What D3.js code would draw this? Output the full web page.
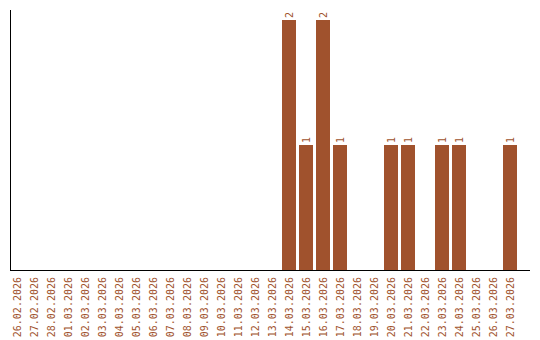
<!DOCTYPE html>
<html><head><meta charset="utf-8">
<script src="https://cdn.jsdelivr.net/npm/d3@7"></script>
<style>body{margin:0;background:#fff}svg{display:block}</style>
</head><body>
<svg id="c" width="540" height="340"></svg>
<script>
const dates = ["26.02.2026","27.02.2026","28.02.2026","01.03.2026","02.03.2026","03.03.2026","04.03.2026","05.03.2026","06.03.2026","07.03.2026","08.03.2026","09.03.2026","10.03.2026","11.03.2026","12.03.2026","13.03.2026","14.03.2026","15.03.2026","16.03.2026","17.03.2026","18.03.2026","19.03.2026","20.03.2026","21.03.2026","22.03.2026","23.03.2026","24.03.2026","25.03.2026","26.03.2026","27.03.2026"];
const counts = [0,0,0,0,0,0,0,0,0,0,0,0,0,0,0,0,2,1,2,1,0,0,1,1,0,1,1,0,0,1];

const svg = d3.select("#c");
const color = "#A0522D";
const x = d3.scaleBand().domain(dates).range([8.5, 8.5 + 17*dates.length]).paddingInner(3/17).paddingOuter(1.5/17);
const y = d3.scaleLinear().domain([0, 2]).range([270, 20]);

const data = dates.map((d,i)=>({d, v: counts[i]}));

svg.selectAll("rect.bar").data(data.filter(e=>e.v>0)).join("rect")
  .attr("class","bar")
  .attr("x", e=>x(e.d))
  .attr("y", e=>y(e.v))
  .attr("width", x.bandwidth())
  .attr("height", e=>y(0)-y(e.v))
  .attr("fill", color);

svg.selectAll("text.val").data(data.filter(e=>e.v>0)).join("text")
  .attr("class","val")
  .attr("transform", e=>`translate(${x(e.d)+x.bandwidth()/2+3.5},${y(e.v)-2}) rotate(-90)`)
  .attr("font-family","DejaVu Sans Mono, monospace")
  .attr("font-size","10px")
  .attr("fill", color)
  .text(e=>e.v);

// axes lines
svg.append("line").attr("x1",10.5).attr("x2",10.5).attr("y1",10).attr("y2",270.5).attr("stroke","#000");
svg.append("line").attr("x1",10).attr("x2",530).attr("y1",270.5).attr("y2",270.5).attr("stroke","#000");

svg.selectAll("text.lab").data(dates).join("text")
  .attr("class","lab")
  .attr("transform", d=>`translate(${x(d)+x.bandwidth()/2+3.5},277) rotate(-90)`)
  .attr("text-anchor","end")
  .attr("font-family","DejaVu Sans Mono, monospace")
  .attr("font-size","10px")
  .attr("fill", color)
  .text(d=>d);
</script>
</body></html>
